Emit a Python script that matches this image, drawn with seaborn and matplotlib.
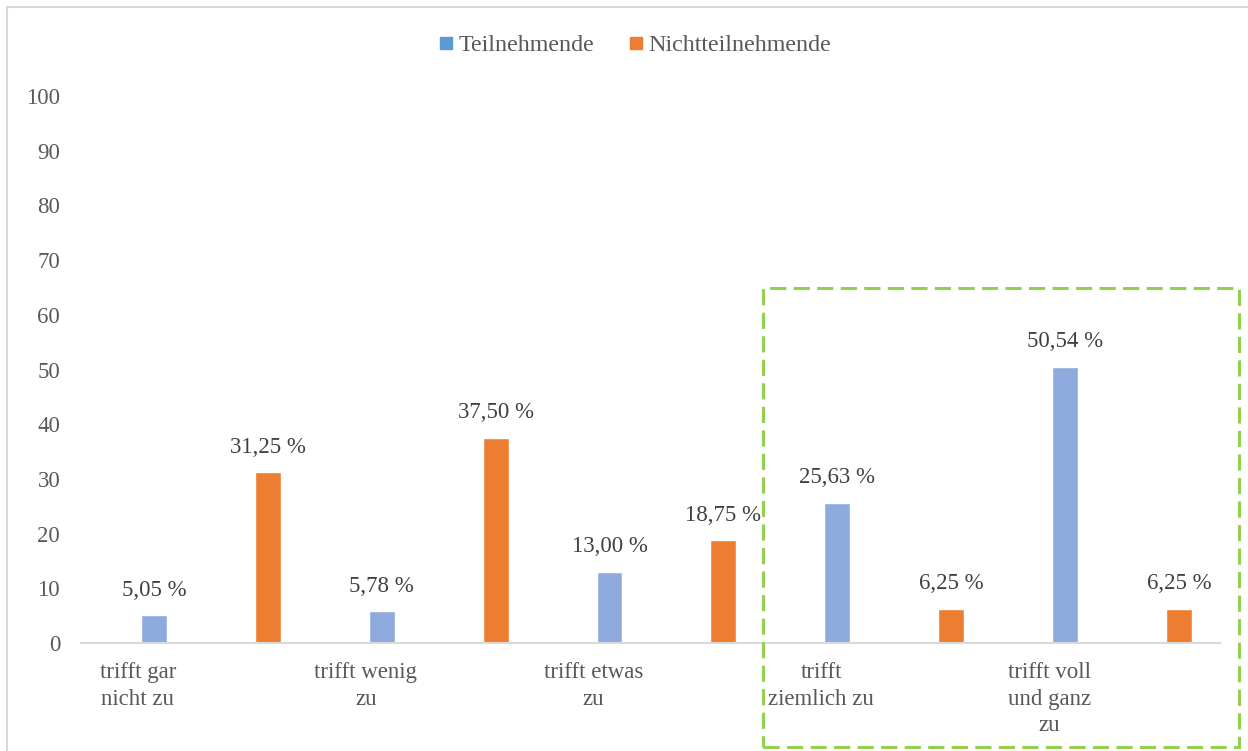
import matplotlib
matplotlib.use("Agg")
import matplotlib.pyplot as plt
from matplotlib.patches import Rectangle
from matplotlib.lines import Line2D
import seaborn as sns
import pandas as pd

# Answer categories (labels shown on every second slot)
categories = ["trifft gar\nnicht zu", "trifft wenig\nzu", "trifft etwas\nzu",
              "trifft\nziemlich zu", "trifft voll\nund ganz\nzu"]
groups = ["Teilnehmende", "Nichtteilnehmende"]
# Shares in percent, one bar per slot, alternating groups
teilnehmende = [5.05, 5.78, 13.00, 25.63, 50.54]
nichtteilnehmende = [31.25, 37.50, 18.75, 6.25, 6.25]
y_ticks = [0, 10, 20, 30, 40, 50, 60, 70, 80, 90, 100]

bar_blue = "#8FAADC"
legend_blue = "#5B9BD5"
orange = "#ED7D31"
text_grey = "#595959"
label_dark = "#404040"

sns.set_theme(style="white")
plt.rcParams["font.family"] = ["Liberation Serif", "DejaVu Serif"]

rows = []
for i in range(len(categories)):
    rows.append({"slot": 2 * i, "value": teilnehmende[i], "group": groups[0]})
    rows.append({"slot": 2 * i + 1, "value": nichtteilnehmende[i], "group": groups[1]})
df = pd.DataFrame(rows)
offset = 0.14
df["pos"] = df["slot"] + offset

fig = plt.figure(figsize=(12.48, 7.51), dpi=100)
W, H = 1248, 751
ax = fig.add_axes([81 / W, (H - 643) / H, (1220 - 81) / W, (643 - 96) / H])

sns.barplot(data=df, x="pos", y="value", hue="group", native_scale=True,
            dodge=False, width=0.228, palette={groups[0]: bar_blue, groups[1]: orange},
            ax=ax, legend=False, saturation=1)

ax.set_xlim(-0.5, 9.5)
ax.set_ylim(0, 100)
ax.set_yticks(y_ticks)
ax.set_yticklabels([str(t) for t in y_ticks], fontsize=16.5, color=text_grey)
ax.set_xticks([2 * i for i in range(len(categories))])
ax.set_xticklabels(categories, fontsize=16.5, color=text_grey, linespacing=1.32, va="top")
ax.tick_params(axis="both", length=0)
ax.tick_params(axis="y", pad=15)
ax.tick_params(axis="x", pad=14)
ax.set_xlabel("")
ax.set_ylabel("")
for side in ["top", "right", "left"]:
    ax.spines[side].set_visible(False)
ax.spines["bottom"].set_color("#D9D9D9")
ax.spines["bottom"].set_linewidth(1.5)

for _, r in df.iterrows():
    txt = f"{r['value']:.2f}".replace(".", ",") + " %"
    ax.annotate(txt, (r["pos"], r["value"]), xytext=(0, 18), textcoords="offset points",
                ha="center", va="center", fontsize=16.5, color=label_dark)

handles = [Line2D([], [], marker="s", linestyle="none", markersize=8.5,
                  markerfacecolor=c, markeredgecolor=c) for c in (legend_blue, orange)]
fig.legend(handles, groups, loc="center", bbox_to_anchor=(633 / W, 1 - 45 / H), ncol=2,
           frameon=False, fontsize=17.3, labelcolor=text_grey, handletextpad=0.05,
           columnspacing=1.3, handlelength=0.9)

# Chart frame
fig.add_artist(Rectangle((7 / W, -0.1), 1.2, (H - 7) / H + 0.1, transform=fig.transFigure,
                         fill=False, edgecolor="#D9D9D9", linewidth=1.5))
# Highlight of the agreeing answers
fig.add_artist(Rectangle((763 / W, (H - 747) / H), (1239 - 763) / W, (747 - 288) / H,
                         transform=fig.transFigure, fill=False, edgecolor="#92D050",
                         linewidth=2.2, linestyle=(0, (5.3, 2.4))))

fig.savefig("out.png", dpi=100)
